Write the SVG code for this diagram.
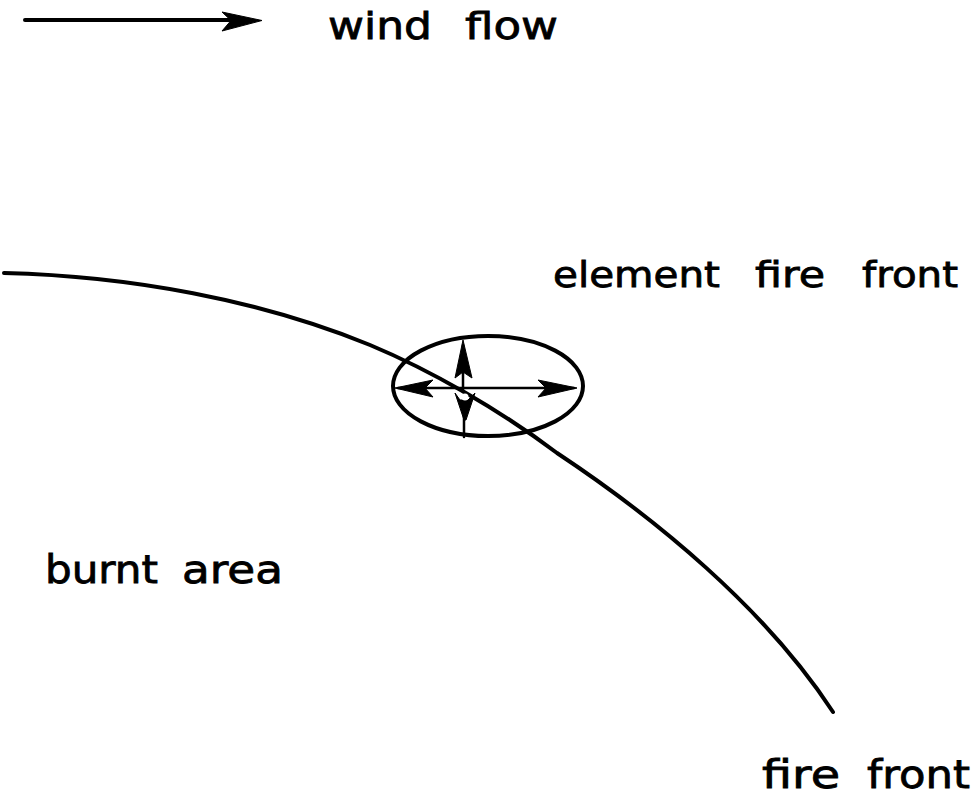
<svg xmlns="http://www.w3.org/2000/svg" width="978" height="798" viewBox="0 0 978 798">
<style>
.ln{fill:none;stroke:#000;stroke-width:4;stroke-linecap:round;stroke-linejoin:round}
.thin{fill:none;stroke:#000;stroke-width:2.5;stroke-linecap:round}
.hd{fill:#000;stroke:#000;stroke-width:1;stroke-linejoin:round}
.lbl{font-family:"DejaVu Sans","Liberation Sans",sans-serif;fill:#000;stroke:#000;stroke-width:0.8}
</style>
<rect width="978" height="798" fill="#fff"/>
<g id="legend">
  <line class="ln" x1="25" y1="20" x2="240" y2="20"/>
  <polygon class="hd" points="262,20.5 222,12 231,20.5 222,31"/>
  <text class="lbl" x="328" y="39" font-size="38" textLength="104" lengthAdjust="spacingAndGlyphs">wind</text>
  <text class="lbl" x="465" y="39" font-size="38" textLength="93" lengthAdjust="spacingAndGlyphs">flow</text>
</g>
<g id="fire-front">
  <path class="ln" d="M4,273 C130,276 260,300 370,345 C430,370 500,410 557,453 C655,518 765,608 833,712"/>
  <text class="lbl" x="762" y="788" font-size="39" textLength="78" lengthAdjust="spacingAndGlyphs">fire</text>
  <text class="lbl" x="867" y="788" font-size="39" textLength="103" lengthAdjust="spacingAndGlyphs">front</text>
</g>
<g id="element-fire-front">
  <ellipse class="ln" cx="488" cy="386" rx="95" ry="50"/>
  <line class="thin" x1="398" y1="388" x2="574" y2="388"/>
  <polygon class="hd" points="395,388 433,380 425,388 433,397"/>
  <polygon class="hd" points="577,388 538,380 546,388 538,397"/>
  <line class="thin" x1="463" y1="345" x2="463" y2="392"/>
  <line class="thin" x1="464" y1="400" x2="464" y2="437"/>
  <polygon class="hd" points="463,340 455,378 463,372 472,378"/>
  <polygon class="hd" points="455,393 460,400 468,400 475,393 466,420 464,420"/>
  <circle cx="465" cy="397" r="3.5" fill="#fff"/>
  <text class="lbl" x="553" y="287" font-size="36" textLength="167" lengthAdjust="spacingAndGlyphs">element</text>
  <text class="lbl" x="755" y="287" font-size="36" textLength="70" lengthAdjust="spacingAndGlyphs">fire</text>
  <text class="lbl" x="862" y="287" font-size="36" textLength="96" lengthAdjust="spacingAndGlyphs">front</text>
</g>
<g id="burnt-area">
  <text class="lbl" x="45" y="583" font-size="39" textLength="113" lengthAdjust="spacingAndGlyphs">burnt</text>
  <text class="lbl" x="182" y="583" font-size="39" textLength="101" lengthAdjust="spacingAndGlyphs">area</text>
</g>
</svg>
